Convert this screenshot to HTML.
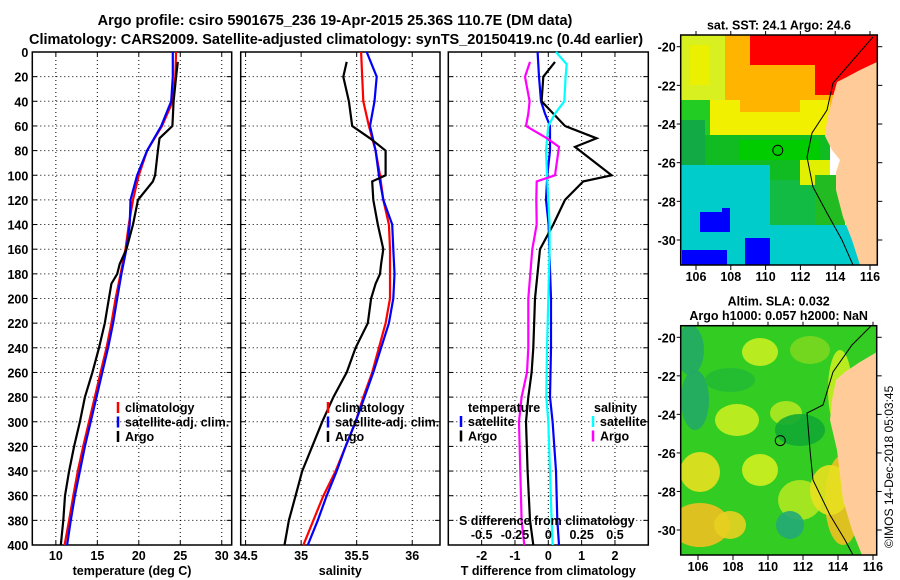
<!DOCTYPE html>
<html><head><meta charset="utf-8"><style>
html,body{margin:0;padding:0;background:#fff;}
svg{display:block;font-family:"Liberation Sans",sans-serif;font-weight:bold;}
</style></head><body>
<svg id="c" width="900" height="580" viewBox="0 0 900 580" xmlns="http://www.w3.org/2000/svg">
<text x="335" y="25" text-anchor="middle" font-size="14.5">Argo profile: csiro 5901675_236 19-Apr-2015 25.36S 110.7E (DM data)</text>
<text x="336" y="44" text-anchor="middle" font-size="14.5">Climatology: CARS2009. Satellite-adjusted climatology: synTS_20150419.nc (0.4d earlier)</text>
<g id="maps"></g>
<g id="plots"></g>
<text transform="translate(893,548) rotate(-90)" font-size="12" font-weight="normal">©IMOS 14-Dec-2018 05:03:45</text>
</svg>
<script>
// ---- data ----
const depthT = [0,20,40,60,80,100,120,140,160,180,200,220,240,260,280,300,320,340,360,380,400];
const tempClim = [24.5,24.4,24.1,22.8,21.0,20.0,19.3,18.8,18.4,17.8,17.2,16.7,16.1,15.4,14.7,14.0,13.3,12.65,12.1,11.6,11.05];
const tempSat  = [24.1,24.1,23.9,22.7,21.0,19.8,19.0,18.9,18.5,17.9,17.4,16.9,16.3,15.6,14.9,14.2,13.5,12.9,12.3,11.8,11.35];
const depthArgo = [8,20,40,60,70,80,100,105,120,140,160,172,180,188,200,220,240,260,280,300,320,340,360,380,400];
const tempArgo = [24.7,24.5,24.2,24.05,22.5,22.3,21.96,21.7,19.9,19.3,18.5,17.7,17.4,16.7,16.4,15.9,15.2,14.4,13.5,12.9,12.2,11.6,11.1,10.9,10.6];
const salClim = [35.54,35.55,35.56,35.61,35.67,35.71,35.74,35.79,35.80,35.80,35.80,35.76,35.70,35.64,35.56,35.49,35.40,35.31,35.20,35.11,35.02];
const salSat  = [35.59,35.68,35.66,35.62,35.67,35.70,35.74,35.82,35.83,35.84,35.83,35.79,35.72,35.65,35.57,35.49,35.40,35.32,35.23,35.15,35.06];
const salArgo = [35.41,35.38,35.43,35.46,35.62,35.76,35.76,35.64,35.65,35.69,35.74,35.72,35.71,35.67,35.63,35.60,35.49,35.41,35.29,35.19,35.10,35.01,34.95,34.89,34.85];
const depthSat = [0,10,20,40,50,60,80,100,120,140,160,200,240,280,300,340,380,400];
const tDiffSat = [-0.32,-0.30,-0.28,-0.22,-0.10,0.05,0.05,-0.03,-0.07,0.01,0.03,0.08,0.08,0.05,0.13,0.23,0.27,0.32];
const sDiffSat = [0.058,0.138,0.13,0.12,0.05,0,-0.017,-0.01,0.0,0.01,0.01,0.0,-0.01,-0.015,0,0.013,0.025,0.033];
const depthDiffA = [8,20,40,50,60,70,77,100,105,120,140,160,200,240,260,280,300,340,380,400];
const tDiffArgo = [0.2,-0.15,-0.2,0.15,0.5,1.45,0.8,1.9,1.05,0.5,0.15,-0.25,-0.4,-0.45,-0.5,-0.6,-0.67,-0.62,-0.55,-0.45];
const sDiffArgo = [-0.137,-0.175,-0.14,-0.15,-0.167,-0.01,0.08,0.05,-0.087,-0.09,-0.087,-0.12,-0.15,-0.15,-0.16,-0.2,-0.22,-0.21,-0.2,-0.18];
const depthTicks = [0,20,40,60,80,100,120,140,160,180,200,220,240,260,280,300,320,340,360,380,400];
const tempTicks = [10,15,20,25,30];
const salTicks = [34.5,35,35.5,36];
const tdTicks = [-2,-1,0,1,2];
const sdTicks = [-0.5,-0.25,0,0.25,0.5];

const NS='http://www.w3.org/2000/svg';
function mk(tag,attrs,parent){const e=document.createElementNS(NS,tag);for(const k in attrs)e.setAttribute(k,attrs[k]);parent.appendChild(e);return e;}
const plots=document.getElementById('plots');
const Y0=52,Y1=545;
const yS=d=>Y0+(d/400)*(Y1-Y0);

function panel(name,x0,x1,d0,d1,ticks,labels,xlabel,yLabels){
  const g=mk('g',{},plots);
  
  
  const xs=v=>x0+(v-d0)/(d1-d0)*(x1-x0);
  ticks.forEach((t,i)=>{
    const X=xs(t);
    const l=mk('line',{x1:X,x2:X,y1:Y0,y2:Y1,stroke:'#000','stroke-width':1,'stroke-dasharray':'1,3'},g);
    
    
    mk('line',{x1:X,x2:X,y1:Y1,y2:Y1-4,stroke:'#000'},g);
    mk('line',{x1:X,x2:X,y1:Y0,y2:Y0+4,stroke:'#000'},g);
    if(labels){const tx=mk('text',{x:X,y:Y1+15,'text-anchor':'middle','font-size':12.5},g);tx.textContent=labels[i];
      
      }
  });
  depthTicks.forEach(d=>{
    const Y=yS(d);
    const l=mk('line',{x1:x0,x2:x1,y1:Y,y2:Y,stroke:'#000','stroke-width':1,'stroke-dasharray':'1,3'},g);
    
    
    mk('line',{x1:x0,x2:x0+5,y1:Y,y2:Y,stroke:'#000'},g);
    mk('line',{x1:x1,x2:x1-5,y1:Y,y2:Y,stroke:'#000'},g);
    if(yLabels){const tx=mk('text',{x:x0-4,y:Y+5,'text-anchor':'end','font-size':12.5},g);tx.textContent=d;
      
      }
  });
  const r=mk('rect',{x:x0,y:Y0,width:x1-x0,height:Y1-Y0,fill:'none',stroke:'#000','stroke-width':1.5},g);
  
  
  if(xlabel){const tx=mk('text',{x:(x0+x1)/2,y:Y1+30,'text-anchor':'middle','font-size':12.5},g);tx.textContent=xlabel;
    
    }
  return {g,xs};
}
function line(p,xs,vals,depths,color,nm){
  const pts=vals.map((v,i)=>xs(v).toFixed(1)+','+yS(depths[i]).toFixed(1)).join(' ');
  const pl=mk('polyline',{points:pts,fill:'none',stroke:color,'stroke-width':2.2},p.g);
  
  
}
function legend(g,x,y,entries){
  entries.forEach((e,i)=>{
    mk('line',{x1:x,x2:x,y1:y+i*14.5-10,y2:y+i*14.5+1,stroke:e[1],'stroke-width':2.5},g);
    const t=mk('text',{x:x+7,y:y+i*14.5,'font-size':12.5},g);t.textContent=e[0];
    
    
  });
}
// temperature panel
const pT=panel('temperature',32.3,231.7,7.16,31.2,tempTicks,tempTicks.map(String),'temperature (deg C)',true);
line(pT,pT.xs,tempClim,depthT,'#f00','temp-climatology-line');
line(pT,pT.xs,tempSat,depthT,'#00f','temp-satellite-line');
line(pT,pT.xs,tempArgo,depthArgo,'#000','temp-argo-line');
legend(pT.g,118,412,[['climatology','#f00'],['satellite-adj. clim.','#00f'],['Argo','#000']]);
// salinity panel
const pS=panel('salinity',240.7,440,34.456,36.25,salTicks,['34.5','35','35.5','36'],'salinity',false);
line(pS,pS.xs,salClim,depthT,'#f00','sal-climatology-line');
line(pS,pS.xs,salSat,depthT,'#00f','sal-satellite-line');
line(pS,pS.xs,salArgo,depthArgo,'#000','sal-argo-line');
legend(pS.g,328,412,[['climatology','#f00'],['satellite-adj. clim.','#00f'],['Argo','#000']]);
// difference panel
const pD=panel('difference',448.3,648.3,-3,3,tdTicks,tdTicks.map(String),'T difference from climatology',false);
const xsS=v=>pD.xs(v*4);
line(pD,pD.xs,tDiffSat,depthSat,'#00f','tdiff-satellite-line');
line(pD,pD.xs,tDiffArgo,depthDiffA,'#000','tdiff-argo-line');
line(pD,xsS,sDiffSat,depthSat,'#0ff','sdiff-satellite-line');
line(pD,xsS,sDiffArgo,depthDiffA,'#f0f','sdiff-argo-line');
{
 const t1=mk('text',{x:468,y:412,'font-size':12.5},pD.g);t1.textContent='temperature';
 
 const t2=mk('text',{x:594,y:412,'font-size':12.5},pD.g);t2.textContent='salinity';
 
 legend(pD.g,461,426,[['satellite','#00f'],['Argo','#000']]);
 legend(pD.g,593,426,[['satellite','#0ff'],['Argo','#f0f']]);
 const t3=mk('text',{x:459,y:525,'font-size':12.5},pD.g);t3.textContent='S difference from climatology';
 
 sdTicks.forEach(s=>{const t=mk('text',{x:xsS(s),y:539,'text-anchor':'middle','font-size':12.5},pD.g);t.textContent=String(s);
   });
}
// ---- maps ----
const maps=document.getElementById('maps');
function mapFrame(name,x0,y0,x1,y1,lon106,lon116,latN20,latN30,lats,title){
  const g=mk('g',{},maps);
  
  
  const cp=mk('clipPath',{id:name+'-clip'},g);mk('rect',{x:x0,y:y0,width:x1-x0,height:y1-y0},cp);
  const inner=mk('g',{'clip-path':'url(#'+name+'-clip)'},g);
  const lx=l=>lon106+(l-106)/10*(lon116-lon106);
  const ly=l=>latN20+(-20-l)/10*(latN30-latN20);
  [106,108,110,112,114,116].forEach(l=>{
    const X=lx(l);mk('line',{x1:X,x2:X,y1:y1,y2:y1+5,stroke:'#000'},g);mk('line',{x1:X,x2:X,y1:y0,y2:y0-4,stroke:'#000'},g);
    const t=mk('text',{x:X,y:y1+16,'text-anchor':'middle','font-size':12.5},g);t.textContent=l;
    
  });
  lats.forEach(l=>{
    const Y=ly(l);mk('line',{x1:x0,x2:x0-4,y1:Y,y2:Y,stroke:'#000'},g);mk('line',{x1:x1,x2:x1+5,y1:Y,y2:Y,stroke:'#000'},g);
    const t=mk('text',{x:x0-5,y:Y+5,'text-anchor':'end','font-size':12.5},g);t.textContent=l;
    
  });
  title.forEach((s,i)=>{const t=mk('text',{x:(x0+x1)/2,y:y0-(title.length-i)*14.5+9,'text-anchor':'middle','font-size':12.5},g);t.textContent=s;
    });
  return {g,inner,lx,ly,x0,y0,x1,y1};
}
function rects(g,list){list.forEach(r=>mk('rect',{x:r[0],y:r[1],width:r[2],height:r[3],fill:r[4]},g));}
// SST map
const m1=mapFrame('sst-map',680.7,35,877.3,265,696,870,46.7,240,[-20,-22,-24,-26,-28,-30],['sat. SST: 24.1 Argo: 24.6']);
rects(m1.inner,[
 [680,35,200,75,'#ffb400'],[680,35,45,70,'#d8f020'],[690,45,20,40,'#eaf000'],
 [750,35,127,30,'#ff0000'],[815,62,62,33,'#ff0000'],[775,55,30,10,'#ff0000'],
 [680,100,150,40,'#f0f000'],[680,100,30,40,'#22cc22'],[740,100,60,12,'#ffb400'],
 [680,135,150,55,'#11bb22'],[680,120,25,70,'#11aa44'],[740,140,80,20,'#00cc00'],
 [680,165,90,100,'#00cccc'],[770,180,60,85,'#11bb44'],[770,225,90,40,'#00cccc'],[800,160,30,25,'#e0f000'],
 [815,175,30,50,'#22bb22'],
 [700,212,30,20,'#0000ff'],[722,208,8,8,'#0000ff'],[745,238,25,27,'#0000ff'],[682,250,45,15,'#0000ff']
]);
mk('polygon',{points:'877,62 860,70 845,78 837,82 832,100 827,120 825,136 832,150 840,160 836,172 836,190 843,217 852,240 860,265 877,265','fill':'#ffcc99'},m1.inner);
mk('polyline',{points:'873,37 833,83 827,110 812,133 807,157 813,187 827,213 842,240 853,265',fill:'none',stroke:'#000','stroke-width':1},m1.inner);
mk('circle',{cx:m1.lx(110.7),cy:m1.ly(-25.36),r:5,fill:'none',stroke:'#000','stroke-width':1},m1.g);
mk('rect',{x:680.7,y:35,width:196.6,height:230,fill:'none',stroke:'#000','stroke-width':1.5},m1.g);
// SLA map
const m2=mapFrame('sla-map',680.7,325.7,876.7,555,698,873,337.3,530,[-20,-22,-24,-26,-28,-30],['Altim. SLA: 0.032','Argo h1000: 0.057 h2000: NaN']);
rects(m2.inner,[[680,325,200,232,'#33cc22']]);
[[760,352,18,14,'#c8f020'],[810,350,20,14,'#7ad820'],[737,420,22,16,'#c8f020'],[786,413,16,12,'#aee820'],[760,470,18,16,'#d0f020'],[700,472,20,20,'#e8e020'],[700,525,30,22,'#eec020'],[730,525,16,14,'#e8d020'],[800,500,22,20,'#aee820'],[843,500,18,45,'#f0c020'],[830,490,20,25,'#e8e020'],[840,390,12,40,'#c8f020']].forEach(b=>{
  mk('ellipse',{cx:b[0],cy:b[1],rx:b[2],ry:b[3],fill:b[4],opacity:0.9},m2.inner);
});
[[690,350,14,25,'#22aa66'],[695,400,14,30,'#22aa66'],[800,430,25,16,'#11aa33'],[790,525,14,14,'#22aa77'],[730,380,25,12,'#22bb33']].forEach(b=>{
  mk('ellipse',{cx:b[0],cy:b[1],rx:b[2],ry:b[3],fill:b[4],opacity:0.9},m2.inner);
});
mk('polygon',{points:'877,352 860,362 845,372 836,380 832,400 830,420 837,450 843,500 852,530 862,555 877,555','fill':'#ffcc99'},m2.inner);
mk('polyline',{points:'872,325 852,345 833,372 823,405 807,413 810,450 813,480 830,515 845,540 853,555',fill:'none',stroke:'#000','stroke-width':1},m2.inner);
mk('circle',{cx:m2.lx(110.7),cy:m2.ly(-25.36),r:5,fill:'none',stroke:'#000','stroke-width':1},m2.g);
mk('rect',{x:680.7,y:325.7,width:196,height:229.3,fill:'none',stroke:'#000','stroke-width':1.5},m2.g);
</script>
</body></html>
